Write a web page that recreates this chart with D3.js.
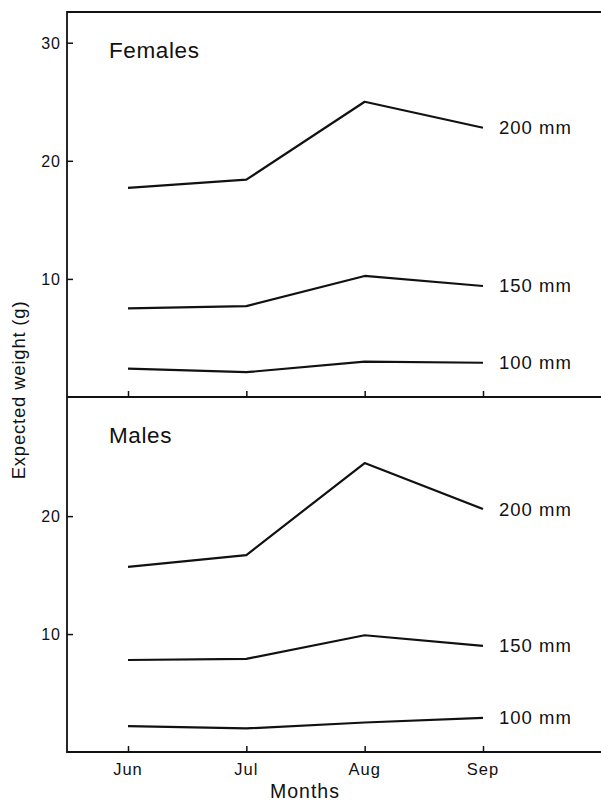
<!DOCTYPE html>
<html>
<head>
<meta charset="utf-8">
<script src="https://cdn.jsdelivr.net/npm/d3@7"></script>
<style>
  body { margin: 0; background: #fff; }
  text { font-family: "Liberation Sans", Arial, sans-serif; fill: #111; }
</style>
</head>
<body>
<svg id="chart" width="601" height="801"></svg>
<script>
// data
const months = ['Jun', 'Jul', 'Aug', 'Sep']
const sizes = ['200 mm', '150 mm', '100 mm']
const females200 = [17.7, 18.4, 25.0, 22.8]
const females150 = [7.5, 7.7, 10.25, 9.4]
const females100 = [2.4, 2.1, 3.0, 2.9]
const males200 = [15.7, 16.7, 24.5, 20.6]
const males150 = [7.8, 7.9, 9.9, 9.0]
const males100 = [2.2, 2.0, 2.5, 2.9]
const femaleTicks = [10, 20, 30]
const maleTicks = [10, 20]

const panels = [
  { name: 'Females', series: [females200, females150, females100], domain: [0, 32.6], ticks: femaleTicks, top: 12, bottom: 397 },
  { name: 'Males', series: [males200, males150, males100], domain: [0, 30.1], ticks: maleTicks, top: 397, bottom: 752 }
]

let svg = d3.select('#chart')
let left = 67, right = 601

let x = d3.scalePoint()
  .domain(months)
  .range([128, 483])

let line = d3.line()

panels.forEach((p) => {
  let y = d3.scaleLinear().domain(p.domain).range([p.bottom, p.top])

  // y ticks pointing inward
  let yAxis = svg.append('g')
    .attr('transform', `translate(${left},0)`)
    .call(d3.axisRight(y).tickValues(p.ticks).tickSize(6).tickFormat(d3.format('d')))
  yAxis.select('.domain').remove()
  yAxis.selectAll('line').attr('stroke', '#111').attr('stroke-width', 1.5)
  yAxis.selectAll('text')
    .attr('x', -6)
    .attr('text-anchor', 'end')
    .attr('dy', '0.35em')
    .style('font-size', '16px')
    .style('letter-spacing', '1px')

  // x ticks pointing up from panel bottom
  let xAxis = svg.append('g')
    .attr('transform', `translate(0,${p.bottom})`)
    .call(d3.axisTop(x).tickSize(6).tickFormat(''))
  xAxis.select('.domain').remove()
  xAxis.selectAll('line').attr('stroke', '#111').attr('stroke-width', 1.5)

  p.series.forEach((vals, i) => {
    let pts = vals.map((v, j) => [x(months[j]), y(v)])
    svg.append('path')
      .attr('d', line(pts))
      .attr('fill', 'none')
      .attr('stroke', '#111')
      .attr('stroke-width', 2.2)
      .attr('stroke-linejoin', 'round')
    svg.append('text')
      .attr('x', 499)
      .attr('y', y(vals[3]))
      .attr('dy', '0.35em')
      .style('font-size', '18.5px')
      .style('letter-spacing', '1px')
      .text(sizes[i])
  })

  svg.append('text')
    .attr('x', 109)
    .attr('y', p.top + 46)
    .style('font-size', '22.5px')
    .style('letter-spacing', '0.6px')
    .text(p.name)
})

// frame
svg.append('path')
  .attr('d', `M${right},12H${left}V752H${right}M${left},397H${right}`)
  .attr('fill', 'none')
  .attr('stroke', '#111')
  .attr('stroke-width', 1.8)

// month labels
svg.selectAll('.mlab')
  .data(months)
  .join('text')
  .attr('class', 'mlab')
  .attr('x', (d) => x(d))
  .attr('y', 775)
  .attr('text-anchor', 'middle')
  .style('font-size', '16.5px')
  .style('letter-spacing', '1px')
  .text((d) => d)

svg.append('text')
  .attr('x', 305)
  .attr('y', 798)
  .attr('text-anchor', 'middle')
  .style('font-size', '19.5px')
  .style('letter-spacing', '1px')
  .text('Months')

svg.append('text')
  .attr('transform', 'translate(25,390) rotate(-90)')
  .attr('text-anchor', 'middle')
  .style('font-size', '18.5px')
  .style('letter-spacing', '0.8px')
  .text('Expected weight (g)')
</script>
</body>
</html>
